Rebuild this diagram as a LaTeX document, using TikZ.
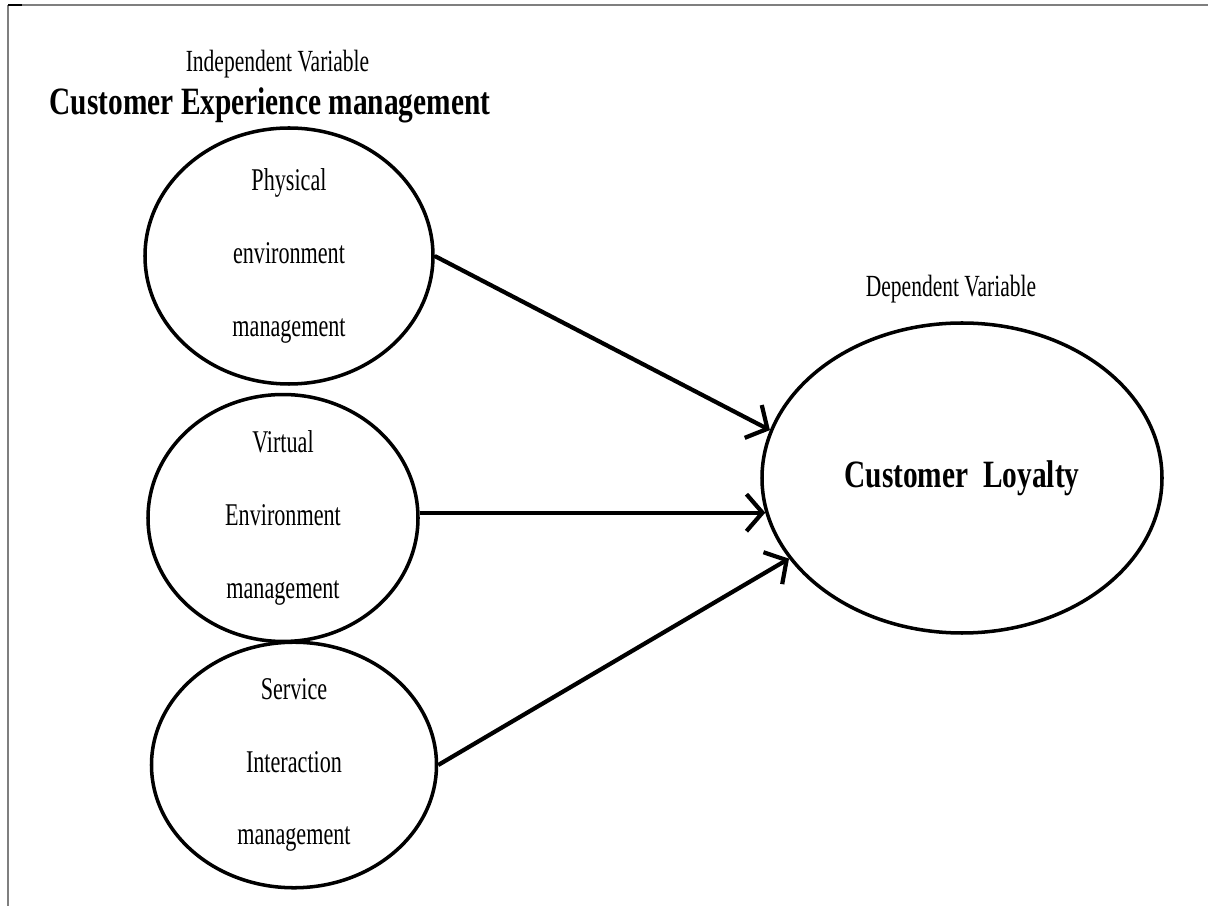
\documentclass[tikz,border=0pt]{standalone}
\usepackage{fontspec}
\setmainfont{Liberation Serif}
\usepackage{graphicx}
\usetikzlibrary{shapes.geometric, arrows.meta}
\definecolor{frameGray}{HTML}{7F7F7F}
\definecolor{inkBlack}{HTML}{000000}

% tall, narrow lettering
\newcommand{\narrowtxt}[1]{\scalebox{0.7}[1]{#1}}
\newcommand{\narrowbf}[1]{\scalebox{0.76}[1]{\bfseries #1}}

\begin{document}
\begin{tikzpicture}[>={Straight Barb[length=3.2mm, width=7.4mm]}]

    \useasboundingbox (0,0) rectangle (24.18,18.12);

    % --- 1. Page Frame ---
    \draw[frameGray, line width=0.7pt] (0.16,18.02) -- (24.16,18.02);
    \draw[frameGray, line width=0.7pt] (0.16,18.02) -- (0.16,0);
    \draw[inkBlack, line width=1.4pt] (0.16,18.02) -- (0.44,18.02);


    % --- 2. Styles ---
    \tikzstyle{factor}=[ellipse, draw=inkBlack, line width=2pt, inner sep=0pt, align=center, font=\fontsize{18}{41.5}\selectfont]
    \tikzstyle{heading}=[anchor=base, inner sep=0pt, font=\fontsize{17.5}{20}\selectfont]
    \tikzstyle{link}=[->, inkBlack, line width=2.4pt]


    % --- 3. Independent Side ---
    \node[heading] (indep) at (5.55,16.68) {\narrowtxt{Independent Variable}};
    \node[heading, font=\fontsize{22}{26}\selectfont] (cem) at (5.40,15.82) {\narrowbf{Customer Experience management}};

    % Physical (top)
    \node[factor, minimum width=5.76cm, minimum height=5.12cm] (phys) at (5.78,13.00)
        {\narrowtxt{Physical}\\ \narrowtxt{environment}\\ \narrowtxt{management}};

    % Virtual (middle)
    \node[factor, minimum width=5.40cm, minimum height=4.70cm] (virt) at (5.66,7.76)
        {\narrowtxt{Virtual}\\ \narrowtxt{Environment}\\ \narrowtxt{management}};

    % Service (bottom)
    \node[factor, minimum width=5.70cm, minimum height=4.40cm] (serv) at (5.88,2.82)
        {\narrowtxt{Service}\\ \narrowtxt{Interaction}\\ \narrowtxt{management}};


    % --- 4. Dependent Side ---
    \node[heading] (dep) at (19.02,12.18) {\narrowtxt{Dependent Variable}};

    \node[factor, minimum width=8.0cm, minimum height=6.2cm, font=\fontsize{22}{26}\selectfont] (loyal) at (19.24,8.56)
        {\narrowbf{Customer\ \ Loyalty}};


    % --- 5. Effects ---
    \draw[link] (phys.east) -- (loyal.166);
    \draw[link] (virt.east |- loyal.190) -- (loyal.190);
    \draw[link] (serv.east) -- (loyal.205);

\end{tikzpicture}
\end{document}
